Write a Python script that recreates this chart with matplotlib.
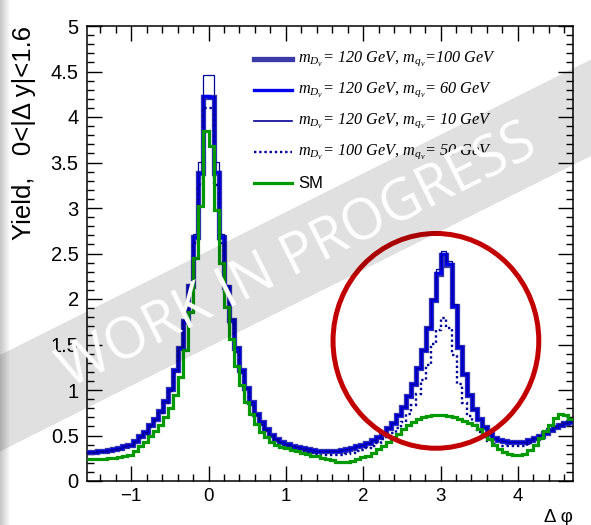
import numpy as np
import matplotlib
matplotlib.use("Agg")
import matplotlib.pyplot as plt
from matplotlib.ticker import MultipleLocator, FuncFormatter
from matplotlib.patches import Ellipse, Polygon, Rectangle
from matplotlib.lines import Line2D

# ---------------- data (96 bins from -pi/2 to 3pi/2) ----------------
x_min, x_max, n_bins = -np.pi / 2, 3 * np.pi / 2, 96

sig_120_100 = [0.32, 0.32, 0.33, 0.33, 0.34, 0.35, 0.36, 0.38, 0.40, 0.44,
               0.49, 0.54, 0.61, 0.68, 0.77, 0.88, 1.01, 1.22, 1.46, 1.76,
               2.14, 2.68, 3.39, 4.22, 4.22, 3.39, 2.68, 2.13, 1.77, 1.46,
               1.22, 1.02, 0.87, 0.74, 0.65, 0.57, 0.51, 0.46, 0.43, 0.41,
               0.39, 0.37, 0.36, 0.35, 0.34, 0.33, 0.33, 0.33, 0.33, 0.33,
               0.34, 0.35, 0.36, 0.38, 0.40, 0.42, 0.45, 0.48, 0.53, 0.58,
               0.64, 0.72, 0.81, 0.93, 1.07, 1.24, 1.44, 1.68, 1.99, 2.28,
               2.48, 2.37, 1.92, 1.47, 1.18, 0.95, 0.79, 0.68, 0.59, 0.52,
               0.47, 0.45, 0.44, 0.43, 0.43, 0.43, 0.43, 0.45, 0.47, 0.50,
               0.53, 0.56, 0.59, 0.62, 0.64, 0.65]

sig_120_60 = [0.32, 0.32, 0.33, 0.33, 0.34, 0.35, 0.36, 0.38, 0.40, 0.44,
              0.49, 0.54, 0.61, 0.68, 0.77, 0.88, 1.01, 1.22, 1.46, 1.76,
              2.14, 2.68, 3.39, 4.23, 4.22, 3.40, 2.68, 2.13, 1.77, 1.46,
              1.22, 1.02, 0.87, 0.74, 0.65, 0.57, 0.51, 0.46, 0.43, 0.41,
              0.39, 0.37, 0.36, 0.35, 0.34, 0.33, 0.33, 0.33, 0.33, 0.33,
              0.34, 0.35, 0.36, 0.38, 0.40, 0.42, 0.45, 0.48, 0.53, 0.58,
              0.64, 0.72, 0.81, 0.93, 1.07, 1.24, 1.44, 1.68, 1.99, 2.29,
              2.49, 2.38, 1.92, 1.47, 1.18, 0.95, 0.79, 0.68, 0.59, 0.52,
              0.47, 0.45, 0.44, 0.43, 0.43, 0.43, 0.43, 0.45, 0.47, 0.50,
              0.53, 0.56, 0.59, 0.62, 0.64, 0.65]

sig_120_10 = [0.32, 0.32, 0.33, 0.33, 0.34, 0.35, 0.36, 0.38, 0.40, 0.44,
              0.49, 0.54, 0.61, 0.68, 0.77, 0.88, 1.01, 1.22, 1.47, 1.77,
              2.16, 2.71, 3.51, 4.46, 4.46, 3.51, 2.71, 2.15, 1.78, 1.47,
              1.22, 1.02, 0.87, 0.74, 0.65, 0.57, 0.51, 0.46, 0.43, 0.41,
              0.39, 0.37, 0.36, 0.35, 0.34, 0.33, 0.33, 0.33, 0.33, 0.33,
              0.34, 0.35, 0.36, 0.38, 0.40, 0.42, 0.45, 0.48, 0.53, 0.58,
              0.64, 0.72, 0.81, 0.93, 1.07, 1.24, 1.44, 1.69, 2.00, 2.33,
              2.53, 2.42, 1.94, 1.48, 1.18, 0.95, 0.79, 0.68, 0.59, 0.52,
              0.47, 0.45, 0.44, 0.43, 0.43, 0.43, 0.43, 0.45, 0.47, 0.50,
              0.53, 0.56, 0.59, 0.62, 0.64, 0.65]

sig_100_50 = [0.31, 0.31, 0.32, 0.32, 0.33, 0.34, 0.35, 0.37, 0.39, 0.42,
              0.47, 0.52, 0.59, 0.66, 0.75, 0.86, 0.99, 1.19, 1.43, 1.72,
              2.08, 2.62, 3.25, 4.10, 4.10, 3.25, 2.62, 2.08, 1.72, 1.42,
              1.19, 0.99, 0.84, 0.72, 0.62, 0.55, 0.49, 0.44, 0.41, 0.38,
              0.36, 0.34, 0.33, 0.32, 0.31, 0.30, 0.29, 0.29, 0.29, 0.29,
              0.29, 0.30, 0.31, 0.33, 0.34, 0.36, 0.39, 0.42, 0.46, 0.49,
              0.53, 0.58, 0.65, 0.74, 0.84, 0.96, 1.11, 1.27, 1.51, 1.66,
              1.79, 1.68, 1.39, 1.07, 0.86, 0.71, 0.61, 0.54, 0.48, 0.44,
              0.41, 0.39, 0.38, 0.38, 0.38, 0.38, 0.39, 0.42, 0.46, 0.50,
              0.53, 0.56, 0.59, 0.62, 0.64, 0.65]

sm = [0.24, 0.24, 0.24, 0.24, 0.25, 0.25, 0.26, 0.27, 0.29, 0.33,
      0.38, 0.43, 0.49, 0.55, 0.62, 0.70, 0.80, 0.94, 1.14, 1.44,
      1.86, 2.45, 3.02, 3.85, 3.68, 2.98, 2.40, 1.91, 1.56, 1.26,
      1.05, 0.87, 0.74, 0.63, 0.54, 0.48, 0.43, 0.40, 0.37, 0.36,
      0.34, 0.33, 0.31, 0.30, 0.28, 0.27, 0.25, 0.24, 0.23, 0.21,
      0.21, 0.21, 0.22, 0.24, 0.26, 0.28, 0.31, 0.35, 0.39, 0.43,
      0.48, 0.52, 0.57, 0.61, 0.65, 0.68, 0.70, 0.71, 0.72, 0.72,
      0.72, 0.71, 0.70, 0.68, 0.66, 0.64, 0.61, 0.57, 0.52, 0.46,
      0.40, 0.35, 0.32, 0.30, 0.29, 0.29, 0.30, 0.34, 0.40, 0.47,
      0.55, 0.62, 0.69, 0.74, 0.73, 0.68]

labels = [r"$m_{D_{\nu}}$= 120 GeV, $m_{q_{\nu}}$=100 GeV",
          r"$m_{D_{\nu}}$= 120 GeV, $m_{q_{\nu}}$= 60 GeV",
          r"$m_{D_{\nu}}$= 120 GeV, $m_{q_{\nu}}$= 10 GeV",
          r"$m_{D_{\nu}}$= 100 GeV, $m_{q_{\nu}}$= 50 GeV",
          "SM"]

# ---------------- figure ----------------
W, H = 591, 525
plt.rcParams["mathtext.fontset"] = "custom"
plt.rcParams["mathtext.it"] = "Liberation Serif:italic"
plt.rcParams["mathtext.rm"] = "Liberation Serif:italic"
plt.rcParams["font.family"] = ["Liberation Sans", "DejaVu Sans"]

fig = plt.figure(figsize=(W / 100, H / 100), dpi=100)
fig.patch.set_facecolor("white")

def fx(px):
    return px / W

def fy(py):
    return 1 - py / H

ax_l, ax_r, ax_t, ax_b = 87, 573, 26, 481
ax = fig.add_axes([fx(ax_l), fy(ax_b), fx(ax_r - ax_l), (ax_b - ax_t) / H])

edges = np.linspace(x_min, x_max, n_bins + 1)

styles = [
    dict(color="#3a3aa8", lw=3.8, ls="-"),
    dict(color="#0000ee", lw=2.4, ls="-"),
    dict(color="#000099", lw=0.9, ls="-"),
    dict(color="#000099", lw=1.7, ls=(0, (1.0, 1.2))),
    dict(color="#009900", lw=2.3, ls="-"),
]
series = [sig_120_100, sig_120_60, sig_120_10, sig_100_50, sm]

for vals, st in zip(series, styles):
    ax.stairs(vals, edges, baseline=None, color=st["color"], lw=st["lw"],
              ls=st["ls"], zorder=3)

ax.set_xlim(x_min, x_max)
ax.set_ylim(0, 5)

ax.xaxis.set_major_locator(MultipleLocator(1))
ax.xaxis.set_minor_locator(MultipleLocator(0.2))
ax.yaxis.set_major_locator(MultipleLocator(0.5))
ax.yaxis.set_minor_locator(MultipleLocator(0.1))
ax.yaxis.set_major_formatter(FuncFormatter(lambda v, p: "%g" % v))
ax.tick_params(which="both", direction="in", top=True, right=True,
               width=1.0, color="black")
ax.tick_params(axis="x", labelsize=13.5)
ax.tick_params(axis="y", labelsize=14.5)
ax.tick_params(which="major", length=10.5)
ax.tick_params(which="minor", length=5)
ax.tick_params(axis="x", which="major", pad=5)
ax.tick_params(axis="y", which="major", pad=6)
for sp in ax.spines.values():
    sp.set_linewidth(1.1)

# axis titles
fig.text(fx(24), fy(ax_t), "Yield,   0<|Δ y|<1.6", rotation=90,
         ha="center", va="top", fontsize=18.5)
fig.text(fx(ax_r), fy(518), "Δ φ", ha="right", va="center", fontsize=13.5)

# legend (manual, ROOT-style)
leg_y = [59, 90, 121, 152, 183]
for (lab, st, yy) in zip(labels, styles, leg_y):
    fig.add_artist(Line2D([fx(254), fx(292)], [fy(yy), fy(yy)],
                          color=st["color"], lw=st["lw"] if st["lw"] > 1 else 1.2,
                          ls=st["ls"], transform=fig.transFigure))
    if lab == "SM":
        fig.text(fx(298), fy(yy), lab, ha="left", va="center", fontsize=12)
    else:
        fig.text(fx(298), fy(yy), lab, ha="left", va="center", fontsize=11.7,
                 family="Liberation Serif", style="italic")

# red circle
ell = Ellipse((2.94, 1.54), 2.66, 2.36, fill=False, ec="#c20000", lw=3.6,
              zorder=6, clip_on=False)
ax.add_patch(ell)

# left shadow strip
for i in range(10):
    fig.add_artist(Rectangle((fx(i), 0), fx(1), 1, transform=fig.transFigure,
                             color="black", alpha=0.22 * (1 - i / 10), lw=0))

# watermark band
band = Polygon([(fx(0), fy(355)), (fx(W), fy(59.5)), (fx(W), fy(156)),
                (fx(0), fy(451.5))], closed=True, transform=fig.transFigure,
               facecolor="black", alpha=0.12, lw=0, zorder=10)
fig.add_artist(band)
fig.text(fx(298), fy(258), "WORK IN PROGRESS", rotation=26.6, rotation_mode="anchor",
         ha="center", va="center", color="white", fontsize=40,
         family=["Open Sans", "DejaVu Sans"], zorder=11)

fig.savefig("out.png", dpi=100)
